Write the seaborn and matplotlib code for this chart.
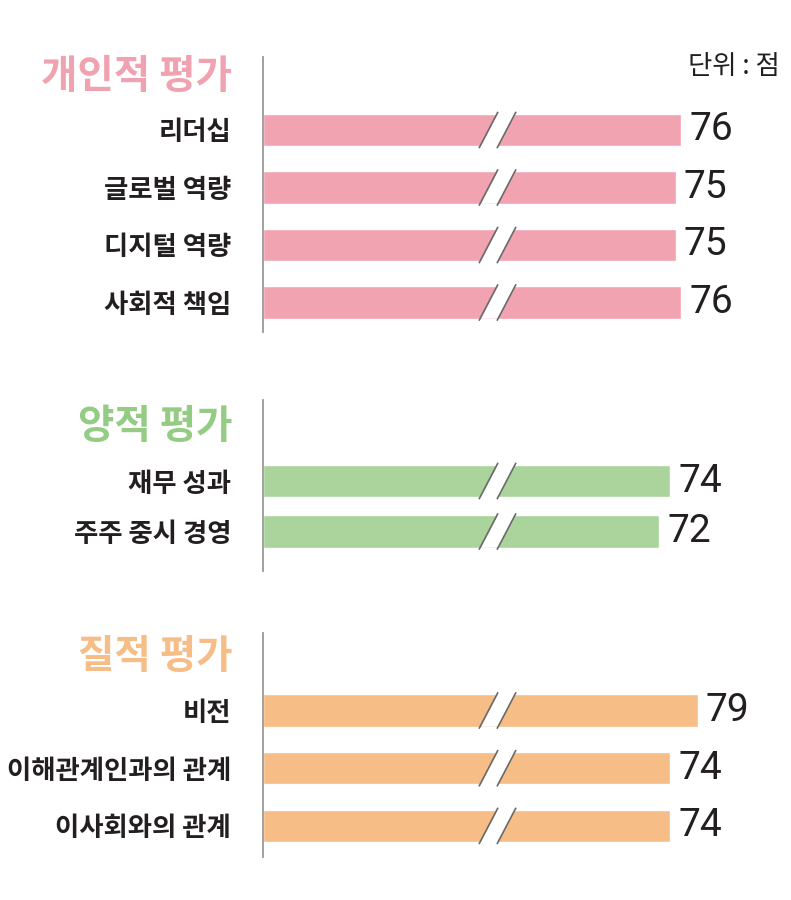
import matplotlib
matplotlib.use("Agg")
import matplotlib.pyplot as plt
import seaborn as sns
import pandas as pd
from matplotlib.patches import Polygon

sns.set_theme(style="white")
plt.rcParams['font.family'] = ['Noto Sans CJK KR', 'DejaVu Sans']

# ---- data ----
group_titles = ["개인적 평가", "양적 평가", "질적 평가"]
personal_labels = ["리더십", "글로벌 역량", "디지털 역량", "사회적 책임"]
personal_values = [76, 75, 75, 76]
quant_labels = ["재무 성과", "주주 중시 경영"]
quant_values = [74, 72]
qual_labels = ["비전", "이해관계인과의 관계", "이사회와의 관계"]
qual_values = [79, 74, 74]
unit_text = "단위 : 점"

bar_colors = ["#F2A3B1", "#AAD49B", "#F6BD86"]
title_colors = ["#F0A2B1", "#94CC84", "#F7BD87"]

W, H = 791, 900
fig = plt.figure(figsize=(W / 100, H / 100), dpi=100)

# layout in pixels: (first bar centre, spacing, line top, line bottom, title centre)
layouts = [
    (130.0, 57.5, 57, 332, 77),
    (481.0, 50.5, 400, 571, 426),
    (710.5, 57.7, 633, 857, 657),
]
bar_px = 32.5
x0_px = 263
px_per_unit = 5.5
xmax = (W - x0_px) / px_per_unit

groups = [
    (personal_labels, personal_values),
    (quant_labels, quant_values),
    (qual_labels, qual_values),
]

value_font = ['Roboto', 'DejaVu Sans']

for g, ((labels, values), (c0, s, T, B, tc)) in enumerate(zip(groups, layouts)):
    ax = fig.add_axes([x0_px / W, 1 - B / H, (W - x0_px) / W, (B - T) / H])
    df = pd.DataFrame({"label": labels, "value": values})
    w = bar_px / s
    sns.barplot(data=df, x="value", y="label", color=bar_colors[g],
                saturation=1, width=w, ax=ax, errorbar=None)
    ax.set_xlim(0, xmax)
    ax.set_ylim((B - c0) / s, (T - c0) / s)
    ax.set_xlabel("")
    ax.set_ylabel("")
    ax.set_xticks([])
    for sp in ["top", "right", "bottom"]:
        ax.spines[sp].set_visible(False)
    ax.spines["left"].set_color("#9a9a9a")
    ax.spines["left"].set_linewidth(1.3)
    ax.tick_params(axis="y", length=0, pad=23)
    for t in ax.get_yticklabels():
        t.set_fontsize(19)
        t.set_fontweight("bold")
        t.set_color("#231f20")
        t.set_family(['Noto Sans CJK KR', 'DejaVu Sans'])

    # value labels
    for cont in ax.containers:
        ax.bar_label(cont, labels=[str(v) for v in values], padding=6,
                     fontsize=28, fontweight="normal", color="#231f20",
                     family=value_font)

    # break marks on each bar
    dx = 17 / px_per_unit
    gap = 18 / px_per_unit
    xl = (480 - x0_px) / px_per_unit
    for i in range(len(labels)):
        yb, yt = i + w / 2, i - w / 2
        poly = Polygon([(xl + 0.15, yb), (xl + dx + 0.15, yt),
                        (xl + gap + dx, yt), (xl + gap, yb)],
                       closed=True, facecolor="white", edgecolor="none", zorder=3)
        ax.add_patch(poly)
        ext = 0.06
        for x_start in (xl, xl + gap):
            xs = [x_start - dx * ext, x_start + dx * (1 + ext)]
            ys = [yb + w * ext, yt - w * ext]
            ax.plot(xs, ys, color="#6a6a6a", lw=1.2, zorder=4,
                    solid_capstyle="butt")

    # group title
    fig.text(232 / W, 1 - tc / H, group_titles[g], ha="right", va="center",
             fontsize=28.5, fontweight="bold", color=title_colors[g],
             family=['Noto Sans CJK KR', 'DejaVu Sans'])

fig.text(688 / W, 1 - 67 / H, unit_text, ha="left", va="center",
         fontsize=19, color="#231f20",
         family=['Noto Sans CJK KR', 'DejaVu Sans'])

fig.savefig("out.png", dpi=100, facecolor="white")
